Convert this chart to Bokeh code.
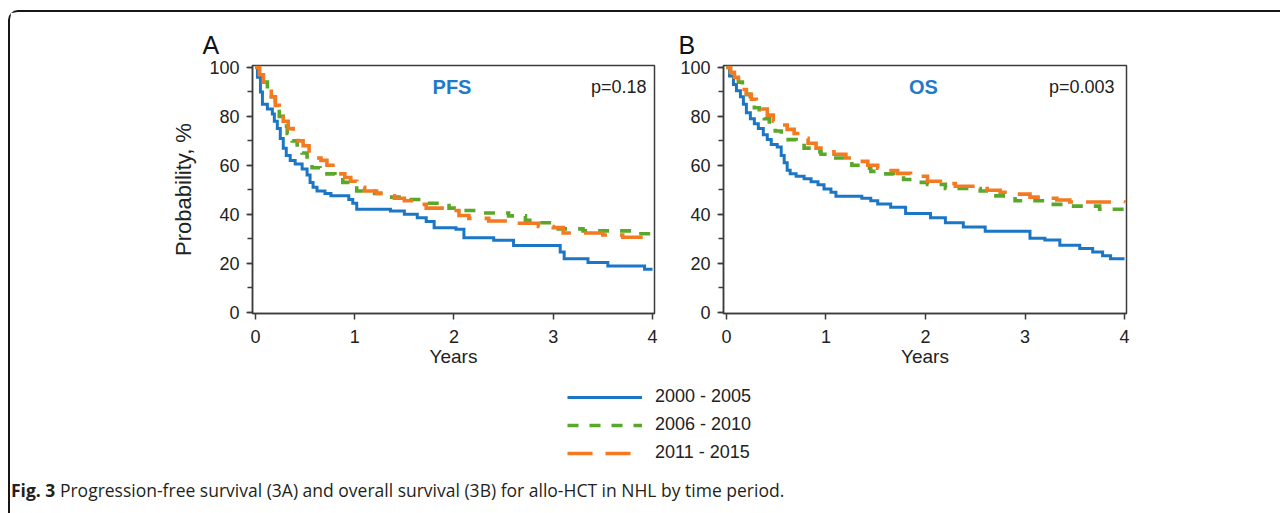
from bokeh.plotting import figure
from bokeh.models import Range1d, SingleIntervalTicker, Label, Legend, LegendItem, Div, Title
from bokeh.layouts import row, column
from bokeh.embed import file_html
from bokeh.resources import INLINE

# ---------------- data ----------------
series_names = ["2000 - 2005", "2006 - 2010", "2011 - 2015"]
x_ticks = [0, 1, 2, 3, 4]
y_ticks = [0, 20, 40, 60, 80, 100]

# Panel A: PFS
pfs_2000_t = [0, 0.02, 0.05, 0.07, 0.12, 0.17, 0.19, 0.22, 0.25, 0.28, 0.31, 0.35, 0.40, 0.47, 0.52, 0.55,
              0.58, 0.62, 0.70, 0.76, 0.94, 0.98, 1.02, 1.36, 1.50, 1.63, 1.72, 1.80, 2.02, 2.10, 2.40,
              2.60, 3.07, 3.11, 3.35, 3.55, 3.92, 4.0]
pfs_2000_p = [100, 96, 90, 85, 83, 81, 78, 75, 71, 67, 64, 62, 60.5, 58.5, 56, 53,
              51, 49.5, 48.5, 47.5, 46, 44.5, 42, 41.3, 40, 38.6, 37, 34.5, 33.8, 30.4, 29.3,
              27.2, 24.5, 21.8, 20.3, 18.8, 17.5, 17.5]

pfs_2006_t = [0, 0.04, 0.08, 0.12, 0.16, 0.2, 0.24, 0.28, 0.32, 0.37, 0.42, 0.47, 0.52, 0.57, 0.65, 0.72,
              0.8, 0.88, 0.95, 1.02, 1.2, 1.35, 1.5, 1.7, 1.85, 1.95, 2.05, 2.25, 2.55, 2.72, 2.85,
              3.05, 3.3, 3.85, 4.0]
pfs_2006_p = [100, 97, 94, 91, 88, 84, 80, 76, 73, 70, 67, 65, 61, 59, 57.5, 56.5,
              55, 53, 51.5, 49.5, 48.5, 47, 46, 44.5, 43.5, 42.5, 41.5, 40.5, 39.3, 37.5, 36.5,
              34, 33.2, 32, 32]

pfs_2011_t = [0, 0.04, 0.08, 0.12, 0.16, 0.2, 0.24, 0.28, 0.33, 0.38, 0.43, 0.48, 0.54, 0.6, 0.66, 0.72,
              0.78, 0.84, 0.9, 0.96, 1.02, 1.1, 1.22, 1.32, 1.4, 1.5, 1.62, 1.72, 1.9, 2.05, 2.15,
              2.35, 2.62, 2.85, 3.0, 3.1, 3.5, 3.7, 4.0]
pfs_2011_p = [100, 97, 94, 91, 88, 84.5, 81, 78, 75, 72, 70, 68, 64.5, 63, 62, 60,
              58, 56.5, 55, 53.5, 51, 49.5, 48.5, 47.5, 46.5, 45.5, 44, 42.5, 41.5, 39.5, 38.3,
              37.2, 36.3, 35, 34.5, 32.3, 31.5, 30.6, 30.6]

# Panel B: OS
os_2000_t = [0, 0.03, 0.07, 0.1, 0.14, 0.17, 0.2, 0.24, 0.28, 0.32, 0.37, 0.41, 0.45, 0.51, 0.55, 0.58,
             0.61, 0.64, 0.7, 0.78, 0.85, 0.92, 0.98, 1.05, 1.1, 1.36, 1.45, 1.52, 1.65, 1.8, 2.05,
             2.2, 2.38, 2.6, 3.05, 3.2, 3.35, 3.55, 3.68, 3.78, 3.86, 4.0]
os_2000_p = [100, 96.5, 93, 90.5, 88, 85, 81.5, 79, 77, 75, 72.5, 70.5, 68.5, 67.5, 64, 61,
             58, 56.5, 55.5, 54.5, 53.3, 52, 50.3, 49, 47.3, 46.5, 45.5, 44.2, 42.8, 40.3, 38.5,
             36.5, 34.8, 33, 30.2, 29.5, 27.3, 26, 24.5, 23, 21.8, 21.8]

os_2006_t = [0, 0.04, 0.08, 0.12, 0.16, 0.2, 0.24, 0.28, 0.33, 0.38, 0.43, 0.49, 0.55, 0.62, 0.7, 0.78,
             0.86, 0.95, 1.08, 1.18, 1.26, 1.34, 1.45, 1.58, 1.68, 1.78, 1.88, 2.02, 2.2, 2.55, 2.65,
             2.9, 3.2, 3.45, 3.75, 4.0]
os_2006_p = [100, 98, 96, 94, 92, 89, 86, 83.5, 81, 79, 76.5, 74, 72, 70.5, 69, 67,
             65.5, 64.5, 63, 61.5, 60, 58.8, 57.5, 56.5, 55.5, 54.2, 53, 52.2, 50.5, 49.5, 47.5,
             45.5, 44, 43.3, 42, 42]

os_2011_t = [0, 0.04, 0.08, 0.12, 0.16, 0.2, 0.25, 0.3, 0.35, 0.41, 0.47, 0.54, 0.61, 0.68, 0.75, 0.82,
             0.9, 0.97, 1.08, 1.2, 1.32, 1.42, 1.52, 1.62, 1.72, 1.85, 2.02, 2.15, 2.3, 2.5, 2.62,
             2.75, 2.9, 3.05, 3.2, 3.32, 3.45, 4.0]
os_2011_p = [100, 98, 96, 93.5, 91, 89, 87, 85, 83, 80.5, 78, 76.5, 74.7, 73, 71, 69,
             67, 65.5, 64.5, 63, 61.6, 60, 58.8, 57.8, 56.7, 55.5, 53.5, 52.5, 51.4, 50.5, 49.8,
             49, 48.2, 47, 46.5, 45.8, 45, 44.8]

# ---------------- styling ----------------
FONT = "Liberation Sans"
TXT = "#222222"
AX = "#3c3c3c"
BLUE = "#1b76c6"
GREEN = "#5aa82a"
ORANGE = "#f47a22"
LABEL_BLUE = "#1f7bc9"
styles = [
    dict(color=BLUE, line_width=3.0, line_dash="solid"),
    dict(color=GREEN, line_width=3.6, line_dash="11 11"),
    dict(color=ORANGE, line_width=3.6, line_dash="25 13"),
]


def make_panel(width, mb_left, mb_right, letter, letter_offset, title, pval, series, ylabel):
    p = figure(width=width, height=365,
               x_range=Range1d(-0.03, 4.02), y_range=Range1d(-0.6, 100.8),
               output_backend="svg", toolbar_location=None,
               min_border_left=mb_left, min_border_right=mb_right,
               min_border_top=53, min_border_bottom=64)
    p.grid.visible = False
    p.background_fill_color = "white"
    p.border_fill_color = "white"
    p.outline_line_color = AX
    p.outline_line_width = 1.5
    p.outline_line_alpha = 1.0

    p.title = Title(text=letter, align="left", offset=letter_offset, standoff=14,
                    text_font=FONT, text_font_size="25px", text_font_style="normal",
                    text_color="#111111")

    p.xaxis.ticker = SingleIntervalTicker(interval=1, num_minor_ticks=0)
    p.yaxis.ticker = SingleIntervalTicker(interval=20, num_minor_ticks=2)
    for ax in (p.xaxis[0], p.yaxis[0]):
        ax.axis_line_color = AX
        ax.axis_line_width = 1.5
        ax.major_tick_line_color = AX
        ax.major_tick_line_width = 1.5
        ax.minor_tick_line_color = AX
        ax.minor_tick_line_width = 1.5
        ax.major_tick_in = 0
        ax.major_tick_out = 6
        ax.minor_tick_in = 0
        ax.minor_tick_out = 5
        ax.major_label_text_font = FONT
        ax.major_label_text_font_size = "18px"
        ax.major_label_text_color = TXT
        ax.axis_label_text_font = FONT
        ax.axis_label_text_font_style = "normal"
        ax.axis_label_text_color = TXT
    p.xaxis.major_label_standoff = 10
    p.yaxis.major_label_standoff = 7
    p.xaxis.axis_label = "Years"
    p.xaxis.axis_label_text_font_size = "19px"
    p.xaxis.axis_label_standoff = 0
    if ylabel:
        p.yaxis.axis_label = ylabel
        p.yaxis.axis_label_text_font_size = "22px"
        p.yaxis.axis_label_standoff = 10

    for (t, v), st in zip(series, styles):
        p.step(t, v, mode="after", line_color=st["color"], line_width=st["line_width"],
               line_dash=st["line_dash"], line_join="miter")

    p.add_layout(Label(x=1.98, y=92, text=title, text_font=FONT, text_font_size="20px",
                       text_font_style="bold", text_color=LABEL_BLUE, text_align="center",
                       text_baseline="middle"))
    p.add_layout(Label(x=pval[1], y=92, text=pval[0], text_font=FONT, text_font_size="18px",
                       text_color=TXT, text_align="right", text_baseline="middle"))
    return p


pA = make_panel(660, 242, 16, "A", -50, "PFS", ("p=0.18", 3.94),
                [(pfs_2000_t, pfs_2000_p), (pfs_2006_t, pfs_2006_p), (pfs_2011_t, pfs_2011_p)],
                "Probability, %")
pB = make_panel(600, 53, 144, "B", -45, "OS", ("p=0.003", 3.9),
                [(os_2000_t, os_2000_p), (os_2006_t, os_2006_p), (os_2011_t, os_2011_p)],
                None)

# ---------------- legend strip ----------------
pL = figure(width=1260, height=90, x_range=Range1d(10, 11), y_range=Range1d(0, 1),
            output_backend="svg", toolbar_location=None,
            x_axis_location=None, y_axis_location=None,
            min_border_left=0, min_border_right=0, min_border_top=0, min_border_bottom=0)
pL.grid.visible = False
pL.outline_line_color = None
pL.background_fill_color = "white"
pL.border_fill_color = "white"
items = []
for (t, v), st, name in zip([(pfs_2000_t, pfs_2000_p), (pfs_2006_t, pfs_2006_p), (pfs_2011_t, pfs_2011_p)],
                            styles, series_names):
    r = pL.step(t, v, mode="after", line_color=st["color"], line_width=st["line_width"],
                line_dash=st["line_dash"])
    items.append(LegendItem(label=name, renderers=[r]))
leg = Legend(items=items, location=(557, 4), orientation="vertical",
             glyph_width=75, glyph_height=20, spacing=7, label_standoff=13,
             padding=0, margin=0, border_line_color=None, background_fill_alpha=0,
             label_text_font=FONT, label_text_font_size="18px", label_text_color=TXT,
             label_height=20)
pL.add_layout(leg)

cap = Div(text=("<div style=\"font-family:'Open Sans';font-size:17.5px;"
                "color:#231f20;line-height:36px;padding-left:0px;margin-left:-4px;white-space:nowrap\">"
                "<b>Fig. 3</b> Progression-free survival (3A) and overall survival (3B) "
                "for allo-HCT in NHL by time period.</div>"),
          width=1260, height=36)

layout = column(row(pA, pB), pL, cap,
                styles={"border-top": "2.5px solid #161616", "border-left": "2.5px solid #161616",
                        "border-top-left-radius": "10px", "margin-top": "10px",
                        "margin-left": "8px", "background": "white"})

open("out.html", "w").write(file_html(layout, INLINE))
